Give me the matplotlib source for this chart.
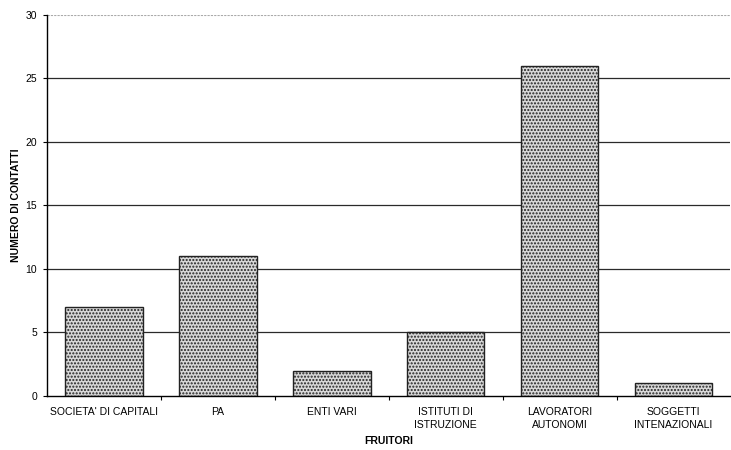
import numpy as np
import matplotlib.pyplot as plt

plt.rcParams['font.family'] = ['Liberation Sans', 'DejaVu Sans']
plt.rcParams['hatch.color'] = '#a8a8a8'

categories = ["SOCIETA' DI CAPITALI", "PA", "ENTI VARI", "ISTITUTI DI\nISTRUZIONE",
              "LAVORATORI\nAUTONOMI", "SOGGETTI\nINTENAZIONALI"]
contatti = [7, 11, 2, 5, 26, 1]
yticks = [0, 5, 10, 15, 20, 25, 30]

fig = plt.figure(figsize=(7.31, 4.5), dpi=100)
ax = fig.add_axes([0.0643, 0.12, 0.935, 0.8467])

x = np.arange(len(categories))
# gridlines
for y in yticks[1:-1]:
    ax.axhline(y, color='#2a2a2a', lw=0.9, zorder=1)
ax.axhline(30, color='#aaaaaa', lw=0.8, ls=(0, (2, 1)), zorder=1)

ax.bar(x, contatti, width=0.68, color='#d8d8d8', edgecolor='#222222', lw=1.0,
       hatch='.....', zorder=2)

ax.set_xlim(-0.5, len(categories) - 0.5)
ax.set_ylim(0, 30)
ax.set_yticks(yticks)
ax.set_xticks(x)
ax.set_xticklabels(categories, fontsize=7.5, linespacing=1.4)
ax.set_xticks(np.arange(len(categories) - 1) + 0.5, minor=True)
ax.tick_params(axis='x', which='major', length=0, pad=8)
ax.tick_params(axis='x', which='minor', length=3, direction='out', width=0.8)
ax.tick_params(axis='y', labelsize=7.5, length=3, width=0.8, pad=4)

for s in ['top', 'right']:
    ax.spines[s].set_visible(False)
ax.spines['left'].set_linewidth(1.0)
ax.spines['bottom'].set_linewidth(1.0)

ax.set_ylabel('NUMERO DI CONTATTI', fontsize=7.5, fontweight='bold', labelpad=3)
ax.set_xlabel('FRUITORI', fontsize=7.5, fontweight='bold', labelpad=4)

fig.savefig('out.png', dpi=100)
